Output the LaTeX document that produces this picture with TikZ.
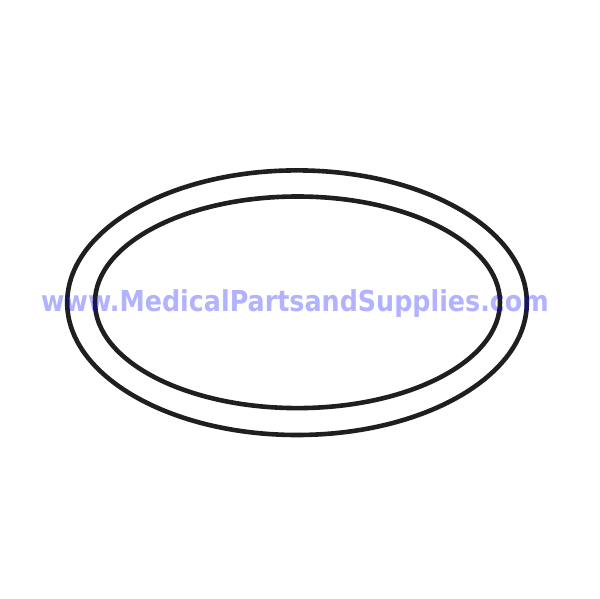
\documentclass[tikz,border=0pt]{standalone}
\usepackage{fontspec}
\newfontfamily\wmfont{DejaVu Sans}
\begin{document}
\begin{tikzpicture}[x=1pt,y=-1pt,
  ring/.style={draw=black!88,line width=4.6pt},
  watermark/.style={text=blue,text opacity=0.3,font=\wmfont\bfseries\fontsize{28.8}{30}\selectfont,inner sep=0pt,xscale=0.881,transform shape}]
\useasboundingbox (0,0) rectangle (600,599);
\draw[ring] (297,302.7) ellipse [x radius=229.8, y radius=132.3];
\draw[ring] (297.5,302.3) ellipse [x radius=202.5, y radius=105.8];
\node[watermark,anchor=base] (wm) at (295,311.5) {www.MedicalPartsandSupplies.com};
\end{tikzpicture}
\end{document}
